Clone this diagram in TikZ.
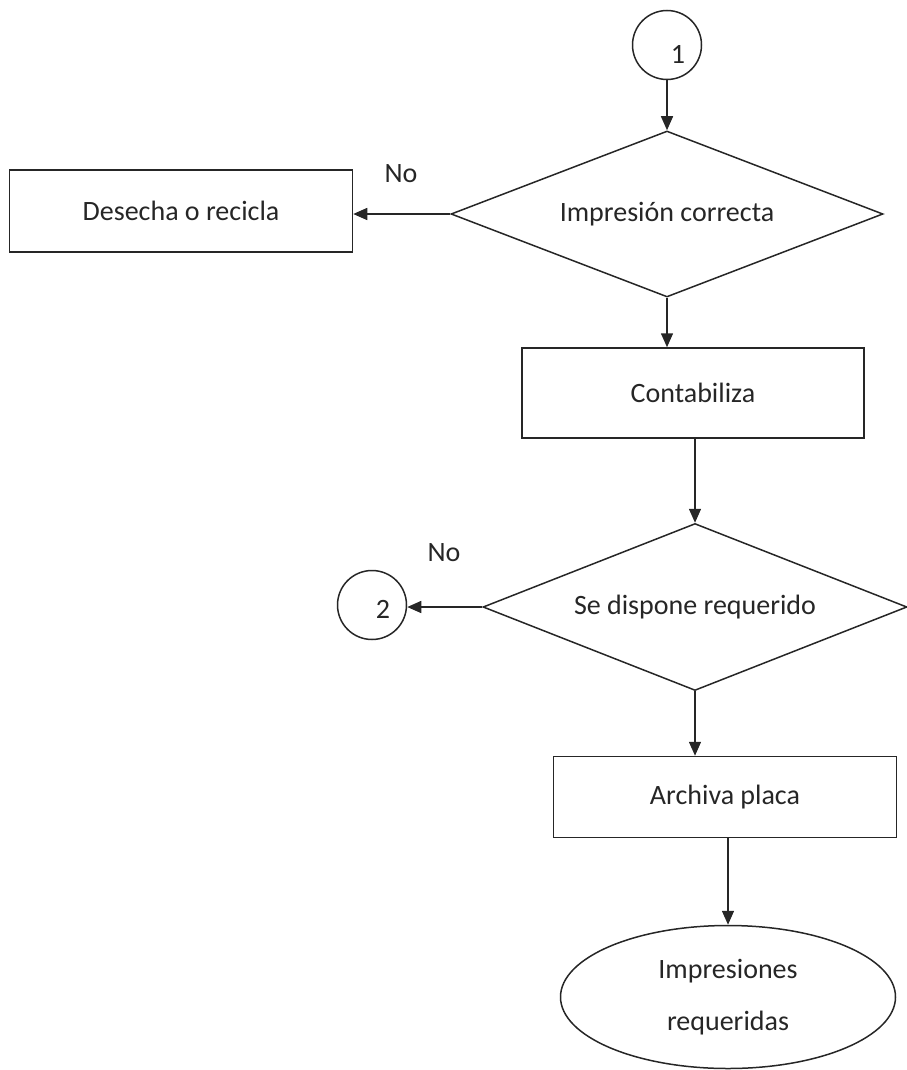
\documentclass[tikz,border=0pt]{standalone}
\usepackage{fontspec}
\setmainfont{Carlito}
\usetikzlibrary{shapes.geometric,arrows.meta,calc}
\begin{document}
\begin{tikzpicture}[x=1pt,y=-1pt,
  every node/.style={font=\fontsize{28}{34}\selectfont, text=black!85},
  lw/.style={line width=1.5pt, draw=black!85},
  procbox/.style={lw, rectangle, inner sep=0pt},
  decision/.style={lw, diamond, inner sep=0pt, aspect=2.6},
  conn/.style={lw, circle, minimum size=69pt, inner sep=0pt},
  term/.style={lw, ellipse, minimum width=335pt, minimum height=143pt, inner sep=0pt, align=center},
  arr/.style={lw, -{Triangle[length=14pt,width=12pt]}},
  lbl/.style={inner sep=0pt}]
\useasboundingbox (0,0) rectangle (906,1070);
\node[conn] (c1) at (667,45) {\hspace{22pt}\raisebox{-19pt}[0pt][0pt]{1}};
\node[decision, minimum width=432pt, minimum height=166pt] (d1) at (667,214) {Impresión correcta};
\node[procbox, minimum width=343pt, minimum height=82pt] (des) at (181,211) {Desecha o recicla};
\node[lbl] (no1) at (401,174) {No};
\node[procbox, minimum width=342pt, minimum height=90pt] (cont) at (693,393) {Contabiliza};
\node[decision, minimum width=424pt, minimum height=167pt] (d2) at (695,607) {Se dispone requerido};
\node[conn] (c2) at (372,605) {\hspace{22pt}\raisebox{-13pt}[0pt][0pt]{2}};
\node[lbl] (no2) at (444,553) {No};
\node[procbox, minimum width=343pt, minimum height=81pt] (arch) at (725,797) {Archiva placa};
\node[term] (fin) at (728,997) {Impresiones\\[18pt]requeridas};
\draw[arr] (c1.south) -- (d1.north);
\draw[arr] (d1.west) -- (d1.west -| des.east);
\draw[arr] (d1.south) -- (d1.south |- cont.north);
\draw[arr] (d2.north |- cont.south) -- (d2.north);
\draw[arr] (d2.west) -- (d2.west -| c2.east);
\draw[arr] (d2.south) -- (d2.south |- arch.north);
\draw[arr] (fin.north |- arch.south) -- (fin.north);
\end{tikzpicture}
\end{document}
